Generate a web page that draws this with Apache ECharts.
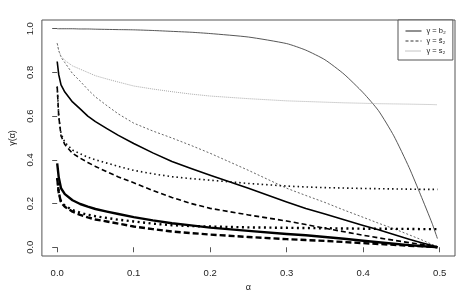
<!DOCTYPE html>
<html><head><meta charset="utf-8">
<script src="https://cdn.jsdelivr.net/npm/echarts@6/dist/echarts.min.js"></script>
<style>html,body{margin:0;padding:0;background:#fff}#c{width:476px;height:297px}</style>
</head><body><div id="c"></div>
<script>
// shared alpha grid
const alpha = [0, 0.002, 0.005, 0.01, 0.02, 0.03, 0.04, 0.05, 0.065, 0.08, 0.1, 0.125, 0.15, 0.175, 0.2, 0.25, 0.3, 0.325, 0.35, 0.375, 0.4, 0.42, 0.44, 0.46, 0.475, 0.49, 0.497];
// thin lines
const b2Thin = [1.0, 1.0, 1.0, 1.0, 1.0, 0.999, 0.999, 0.998, 0.997, 0.996, 0.995, 0.992, 0.988, 0.984, 0.978, 0.962, 0.932, 0.902, 0.858, 0.792, 0.707, 0.625, 0.51, 0.365, 0.24, 0.11, 0.04];
const st2Thin = [0.934, 0.9, 0.87, 0.845, 0.795, 0.76, 0.722, 0.688, 0.648, 0.61, 0.568, 0.532, 0.5, 0.466, 0.43, 0.352, 0.27, 0.237, 0.205, 0.17, 0.137, 0.11, 0.085, 0.057, 0.036, 0.013, 0.003];
const s2Thin = [0.934, 0.9, 0.875, 0.855, 0.83, 0.815, 0.8, 0.785, 0.77, 0.756, 0.738, 0.724, 0.712, 0.701, 0.692, 0.68, 0.67, 0.667, 0.664, 0.661, 0.659, 0.657, 0.656, 0.655, 0.654, 0.653, 0.652];
// medium lines
const b2Mid = [0.85, 0.79, 0.743, 0.71, 0.665, 0.633, 0.6, 0.575, 0.543, 0.512, 0.475, 0.432, 0.392, 0.36, 0.33, 0.27, 0.207, 0.177, 0.152, 0.126, 0.1, 0.08, 0.058, 0.037, 0.022, 0.008, 0.002];
const st2Mid = [0.735, 0.6, 0.51, 0.47, 0.43, 0.408, 0.388, 0.37, 0.345, 0.322, 0.295, 0.26, 0.228, 0.2, 0.178, 0.148, 0.12, 0.104, 0.087, 0.071, 0.055, 0.043, 0.032, 0.021, 0.014, 0.006, 0.002];
const s2Mid = [0.735, 0.6, 0.52, 0.48, 0.445, 0.428, 0.412, 0.4, 0.385, 0.37, 0.352, 0.336, 0.323, 0.314, 0.307, 0.292, 0.28, 0.276, 0.273, 0.271, 0.269, 0.268, 0.267, 0.266, 0.265, 0.265, 0.265];
// thick lines
const b2Thick = [0.384, 0.32, 0.27, 0.243, 0.215, 0.198, 0.186, 0.175, 0.163, 0.152, 0.138, 0.123, 0.11, 0.1, 0.09, 0.075, 0.061, 0.055, 0.047, 0.039, 0.03, 0.023, 0.016, 0.01, 0.006, 0.002, 0.0];
const st2Thick = [0.316, 0.25, 0.205, 0.185, 0.163, 0.148, 0.137, 0.127, 0.118, 0.108, 0.095, 0.083, 0.072, 0.065, 0.058, 0.047, 0.037, 0.033, 0.029, 0.024, 0.019, 0.015, 0.011, 0.007, 0.005, 0.002, 0.0];
const s2Thick = [0.316, 0.25, 0.21, 0.19, 0.17, 0.158, 0.149, 0.142, 0.134, 0.126, 0.118, 0.108, 0.101, 0.097, 0.095, 0.091, 0.089, 0.088, 0.087, 0.086, 0.085, 0.085, 0.084, 0.084, 0.083, 0.083, 0.083];
const xTicks = [0, 0.1, 0.2, 0.3, 0.4, 0.5];
const yTicks = [0, 0.2, 0.4, 0.6, 0.8, 1.0];
const names = ['γ = b₂', 'γ = s̃₂', 'γ = s₂'];

const pts = v => alpha.map((a, i) => [a, v[i]]);
const FONT = 'Liberation Sans, Arial, sans-serif';
function mk(name, vals, color, width, type, smooth) {
  return {
    type: 'line', name, data: pts(vals), symbol: 'none', showSymbol: false, smooth: smooth || false,
    lineStyle: { color, width, type, join: 'round' }, itemStyle: { color },
    emphasis: { disabled: true }, silent: true, animation: false
  };
}
const legendStyles = [
  { color: '#222', width: 1, type: 'solid' },
  { color: '#333', width: 1, type: [3, 2] },
  { color: '#888', width: 1, type: [1, 1] }
];
const chart = echarts.init(document.getElementById('c'), null, { renderer: 'canvas' });
chart.setOption({
  animation: false,
  backgroundColor: '#fff',
  grid: { left: 41, right: 21, top: 20, bottom: 41, show: true, borderColor: '#555', borderWidth: 1, backgroundColor: 'transparent' },
  legend: {
    data: names.map((n, i) => ({ name: n, lineStyle: legendStyles[i] })),
    orient: 'vertical', left: 398, top: 20,
    itemWidth: 16, itemHeight: 8, itemGap: 2,
    itemStyle: { opacity: 0 },
    padding: [7, 7, 5, 7], borderColor: '#555', borderWidth: 1, backgroundColor: '#fff',
    textStyle: { fontSize: 7.5, fontFamily: FONT, color: '#222' }, selectedMode: false
  },
  xAxis: {
    type: 'value', min: -0.02, max: 0.52,
    name: 'α', nameLocation: 'middle', nameGap: 27,
    nameTextStyle: { fontSize: 9, fontFamily: FONT, color: '#222' },
    axisLine: { show: false },
    axisTick: { show: true, length: 5, customValues: xTicks, lineStyle: { color: '#555' } },
    axisLabel: { customValues: xTicks, margin: 12, fontSize: 9.5, fontFamily: FONT, color: '#222', formatter: v => v.toFixed(1) },
    splitLine: { show: false }
  },
  yAxis: {
    type: 'value', min: -0.04, max: 1.04,
    name: 'γ(α)', nameLocation: 'middle', nameGap: 24, nameRotate: 90,
    nameTextStyle: { fontSize: 9, fontFamily: FONT, color: '#222' },
    axisLine: { show: false },
    axisTick: { show: true, length: 5, customValues: yTicks, lineStyle: { color: '#555' } },
    axisLabel: { customValues: yTicks, margin: 7, rotate: 90, fontSize: 9.5, fontFamily: FONT, color: '#222', formatter: v => v.toFixed(1) },
    splitLine: { show: false }
  },
  series: [
    mk(names[0], b2Thin, '#444', 0.9, 'solid', 0.2),
    mk(names[1], st2Thin, '#666', 1, [2, 2]),
    mk(names[2], s2Thin, '#aaa', 1, [1, 1]),
    mk(names[0], b2Mid, '#000', 1.6, 'solid'),
    mk(names[1], st2Mid, '#000', 1.6, [5, 3]),
    mk(names[2], s2Mid, '#111', 1.6, [1.5, 3]),
    mk(names[0], b2Thick, '#000', 2.4, 'solid'),
    mk(names[1], st2Thick, '#000', 2.4, [6, 3]),
    mk(names[2], s2Thick, '#000', 2.4, [2, 3.5])
  ]
});
</script></body></html>
